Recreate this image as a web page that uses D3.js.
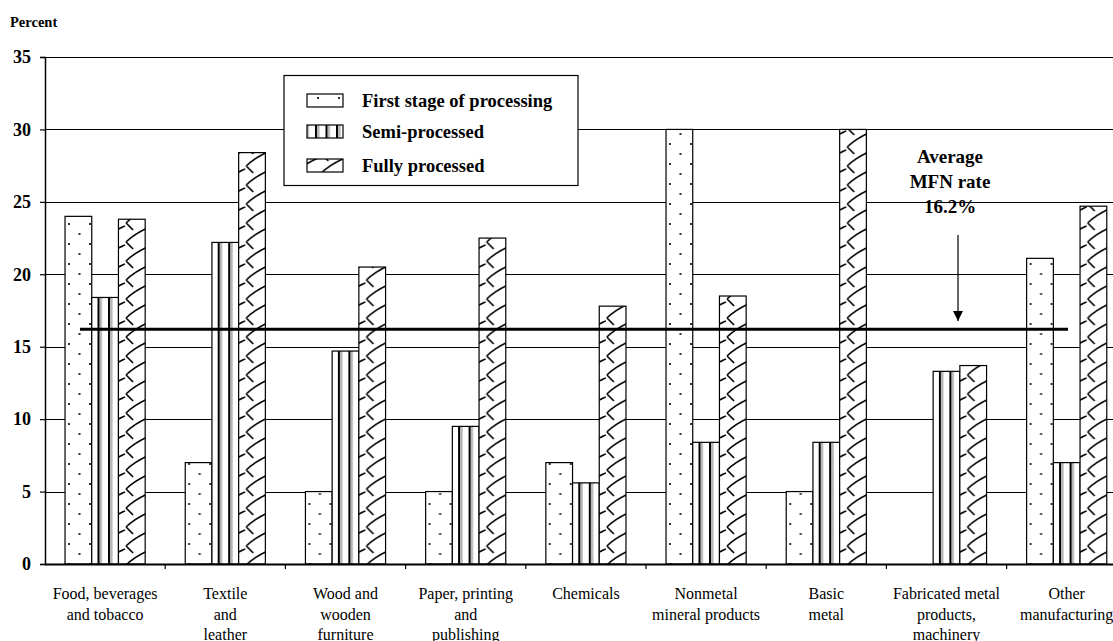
<!DOCTYPE html>
<html>
<head>
<meta charset="utf-8">
<script src="https://cdn.jsdelivr.net/npm/d3@7"></script>
<style>
  html, body { margin: 0; padding: 0; background: #fff; }
  svg { display: block; }
  text { font-family: "Liberation Serif", "Times New Roman", serif; fill: #000; }
</style>
</head>
<body>
<svg id="chart" width="1113" height="641"></svg>
<script>
// Tariff rates by industry and stage of processing
const categories = [
  ["Food, beverages", "and tobacco"],
  ["Textile", "and", "leather"],
  ["Wood and", "wooden", "furniture"],
  ["Paper, printing", "and", "publishing"],
  ["Chemicals"],
  ["Nonmetal", "mineral products"],
  ["Basic", "metal"],
  ["Fabricated metal", "products,", "machinery"],
  ["Other", "manufacturing"]
];
const seriesNames = ["First stage of processing", "Semi-processed", "Fully processed"];
const firstStage    = [24.0, 7.0, 5.0, 5.0, 7.0, 30.0, 5.0, 0.0, 21.1];
const semiProcessed = [18.4, 22.2, 14.7, 9.5, 5.6, 8.4, 8.4, 13.3, 7.0];
const fullyProcessed = [23.8, 28.4, 20.5, 22.5, 17.8, 18.5, 30.0, 13.7, 24.7];
const averageMFN = 16.2;
const yTicks = [0, 5, 10, 15, 20, 25, 30, 35];

const seriesValues = [firstStage, semiProcessed, fullyProcessed];
const catKeys = categories.map((c, i) => "c" + i);

const svg = d3.select("#chart");
const plotLeft = 45, plotBottom = 564, plotTop = 57, catStep = 120.2;

const x = d3.scaleBand().domain(catKeys).range([plotLeft, plotLeft + catStep * categories.length]).paddingInner(0).paddingOuter(0);
const xs = d3.scaleBand().domain(seriesNames).range([0, x.bandwidth()]).paddingInner(0).paddingOuter(0.75);
const y = d3.scaleLinear().domain([0, 35]).range([plotBottom, plotTop]);

// ---- fill patterns ----
const defs = svg.append("defs");

// sparse dots
const pDots = defs.append("pattern").attr("id", "pat-dots")
  .attr("patternUnits", "userSpaceOnUse").attr("width", 21).attr("height", 20);
pDots.append("rect").attr("width", 21).attr("height", 20).attr("fill", "#fff");
pDots.append("rect").attr("x", 2).attr("y", 3).attr("width", 2).attr("height", 2).attr("fill", "#333");
pDots.append("rect").attr("x", 12.5).attr("y", 13).attr("width", 2).attr("height", 2).attr("fill", "#333");

// vertical stripes
const pVert = defs.append("pattern").attr("id", "pat-vert")
  .attr("patternUnits", "userSpaceOnUse").attr("width", 10.5).attr("height", 10);
pVert.append("rect").attr("width", 10.5).attr("height", 10).attr("fill", "#fff");
pVert.append("rect").attr("x", 0).attr("width", 2).attr("height", 10).attr("fill", "#000");
pVert.append("rect").attr("x", 2).attr("width", 2.5).attr("height", 10).attr("fill", "#b4b4b4");

// wavy diagonal
const pWave = defs.append("pattern").attr("id", "pat-wave")
  .attr("patternUnits", "userSpaceOnUse").attr("width", 26.7).attr("height", 19);
pWave.append("rect").attr("width", 26.7).attr("height", 19).attr("fill", "#fff");
pWave.append("path")
  .attr("d", "M1,14 Q10,5 26.7,-2 M1,33 Q10,24 26.7,17 M1,14 L8,21 M1,-5 L8,2")
  .attr("fill", "none").attr("stroke", "#000").attr("stroke-width", 1.6);

const fills = ["url(#pat-dots)", "url(#pat-vert)", "url(#pat-wave)"];

// ---- gridlines ----
svg.append("g").selectAll("line").data(yTicks.filter(t => t > 0)).join("line")
  .attr("x1", plotLeft).attr("x2", 1113)
  .attr("y1", d => Math.round(y(d)) + 0.5).attr("y2", d => Math.round(y(d)) + 0.5)
  .attr("stroke", "#000").attr("stroke-width", 1.2);

// ---- bars ----
const groups = svg.append("g").selectAll("g").data(catKeys).join("g")
  .attr("transform", d => `translate(${x(d)},0)`);
groups.selectAll("rect").data((d, i) => seriesNames.map((s, k) => ({ s, k, v: seriesValues[k][i] })))
  .join("rect")
  .filter(d => d.v > 0)
  .attr("x", d => xs(d.s))
  .attr("y", d => y(d.v))
  .attr("width", xs.bandwidth())
  .attr("height", d => y(0) - y(d.v))
  .attr("fill", d => fills[d.k])
  .attr("stroke", "#000").attr("stroke-width", 1.2);

// ---- axes ----
const yAxis = svg.append("g").attr("transform", `translate(${plotLeft},0)`)
  .call(d3.axisLeft(y).tickValues(yTicks).tickSize(5).tickPadding(9));
yAxis.select(".domain").attr("stroke", "#000").attr("stroke-width", 1.5);
yAxis.selectAll(".tick line").attr("stroke", "#000").attr("stroke-width", 1.2);
yAxis.selectAll(".tick text").attr("font-family", "Liberation Serif").attr("font-weight", "bold").attr("font-size", 18);

const boundaries = d3.range(categories.length + 1).map(i => plotLeft + i * catStep);
svg.append("line").attr("x1", plotLeft).attr("x2", 1113).attr("y1", plotBottom + 0.5).attr("y2", plotBottom + 0.5)
  .attr("stroke", "#000").attr("stroke-width", 2);
svg.append("g").selectAll("line").data(boundaries.slice(1)).join("line")
  .attr("x1", d => d).attr("x2", d => d).attr("y1", plotBottom).attr("y2", plotBottom + 5)
  .attr("stroke", "#000").attr("stroke-width", 1.2);

// category labels
const lbl = svg.append("g").selectAll("text").data(catKeys).join("text")
  .attr("text-anchor", "middle").attr("font-size", 16);
lbl.each(function(d, i) {
  const t = d3.select(this);
  categories[i].forEach((line, j) => {
    t.append("tspan").attr("x", x(d) + x.bandwidth() / 2).attr("y", 599 + j * 20.5).text(line);
  });
});

// axis title
svg.append("text").attr("x", 10).attr("y", 27).attr("font-weight", "bold").attr("font-size", 14.5).text("Percent");

// ---- average MFN line ----
svg.append("line")
  .attr("x1", 80).attr("x2", 1068)
  .attr("y1", y(averageMFN)).attr("y2", y(averageMFN))
  .attr("stroke", "#000").attr("stroke-width", 3);

// annotation
const ann = svg.append("text").attr("text-anchor", "middle").attr("font-weight", "bold").attr("font-size", 19);
["Average", "MFN rate", averageMFN.toFixed(1) + "%"].forEach((line, j) => {
  ann.append("tspan").attr("x", 950).attr("y", 163 + j * 25).text(line);
});
defs.append("marker").attr("id", "arrow").attr("viewBox", "0 0 10 10")
  .attr("refX", 10).attr("refY", 5).attr("markerWidth", 10).attr("markerHeight", 10)
  .attr("markerUnits", "userSpaceOnUse").attr("orient", "auto")
  .append("path").attr("d", "M0,0 L10,5 L0,10 Z").attr("fill", "#000");
svg.append("line").attr("x1", 958).attr("x2", 958).attr("y1", 235).attr("y2", 321)
  .attr("stroke", "#000").attr("stroke-width", 1.2).attr("marker-end", "url(#arrow)");

// ---- legend ----
const legend = svg.append("g");
legend.append("rect").attr("x", 284).attr("y", 75.5).attr("width", 294).attr("height", 110)
  .attr("fill", "#fff").attr("stroke", "#000").attr("stroke-width", 1.2);
const items = legend.selectAll("g").data(seriesNames).join("g")
  .attr("transform", (d, i) => `translate(0,${[94, 125, 159][i]})`);
items.append("rect").attr("x", 307).attr("y", 0).attr("width", 36).attr("height", 13)
  .attr("fill", (d, i) => fills[i]).attr("stroke", "#000").attr("stroke-width", 1.2);
items.append("text").attr("x", 362).attr("y", 13).attr("font-weight", "bold").attr("font-size", 18.5).text(d => d);
</script>
</body>
</html>
